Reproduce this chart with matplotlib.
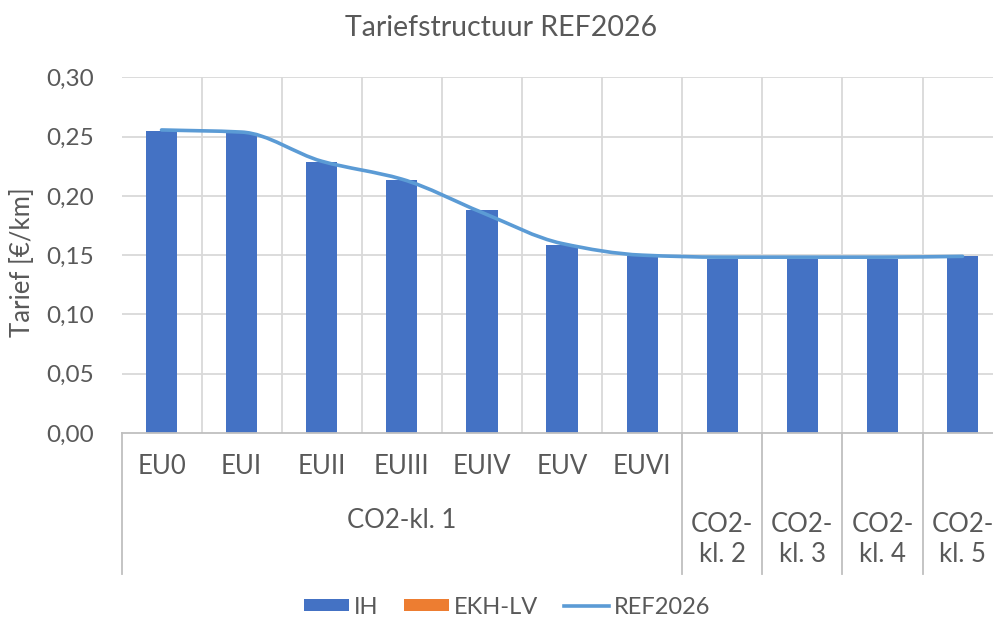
import matplotlib
matplotlib.use("Agg")
import matplotlib.pyplot as plt
import numpy as np
from matplotlib.path import Path
from matplotlib.patches import PathPatch, Patch
from matplotlib.lines import Line2D
import matplotlib.transforms as mtransforms

# ---- data ----
categories = ["EU0", "EUI", "EUII", "EUIII", "EUIV", "EUV", "EUVI",
              "CO2-\nkl. 2", "CO2-\nkl. 3", "CO2-\nkl. 4", "CO2-\nkl. 5"]
sub_labels = ["EU0", "EUI", "EUII", "EUIII", "EUIV", "EUV", "EUVI"]
group_labels = ["CO2-kl. 1", "CO2-\nkl. 2", "CO2-\nkl. 3", "CO2-\nkl. 4", "CO2-\nkl. 5"]
group_sizes = [7, 1, 1, 1, 1]
ih = [0.2550, 0.2527, 0.2285, 0.2133, 0.1877, 0.1587, 0.1494, 0.1470, 0.1468, 0.1468, 0.1494]
ekh_lv = [0, 0, 0, 0, 0, 0, 0, 0, 0, 0, 0]
ref2026 = [0.2556, 0.2538, 0.2292, 0.2141, 0.1860, 0.1598, 0.1500, 0.1483, 0.1483, 0.1483, 0.1490]
yticks = [0.00, 0.05, 0.10, 0.15, 0.20, 0.25, 0.30]
ytick_labels = ["0,00", "0,05", "0,10", "0,15", "0,20", "0,25", "0,30"]

TXT = "#595959"
FONT = "Lato"
plt.rcParams["font.family"] = [FONT, "DejaVu Sans"]

W, H = 993, 619
fig = plt.figure(figsize=(W / 100, H / 100), dpi=100)
left, right, top, bottom = 121.5, 1002.6, 77.3, 433.0
ax = fig.add_axes([left / W, 1 - bottom / H, (right - left) / W, (bottom - top) / H])

n = len(categories)
x = np.arange(n)
ax.bar(x, ih, width=0.39, color="#4472C4", zorder=2, linewidth=0)
ax.bar(x, ekh_lv, width=0.39, color="#ED7D31", zorder=2, linewidth=0)

# smooth line: monotone cubic Bezier through the data points
px = x.astype(float)
py = np.asarray(ref2026, dtype=float)
d = np.diff(py) / np.diff(px)
m = np.zeros(n)
m[0], m[-1] = d[0], d[-1]
for i in range(1, n - 1):
    if d[i - 1] * d[i] > 0:
        m[i] = 2 * d[i - 1] * d[i] / (d[i - 1] + d[i])
    else:
        m[i] = 0.0
verts = [(px[0], py[0])]
codes = [Path.MOVETO]
for i in range(n - 1):
    h = px[i + 1] - px[i]
    verts += [(px[i] + h / 3, py[i] + m[i] * h / 3),
              (px[i + 1] - h / 3, py[i + 1] - m[i + 1] * h / 3),
              (px[i + 1], py[i + 1])]
    codes += [Path.CURVE4] * 3
ax.add_patch(PathPatch(Path(verts, codes), facecolor="none", edgecolor="#5B9BD5",
                       linewidth=2.6, zorder=3, capstyle="round", joinstyle="round"))

ax.set_xlim(-0.5, n - 0.5)
ax.set_ylim(0, 0.30)
ax.set_yticks(yticks)
ax.set_yticklabels(ytick_labels, color=TXT, fontsize=17.5)
ax.tick_params(axis="y", length=0, pad=20)
ax.set_xticks([])

# gridlines
for yv in yticks[1:]:
    ax.axhline(yv, color="#D9D9D9", linewidth=1.3, zorder=1)
for b in np.arange(0.5, n - 0.5, 1.0):
    ax.axvline(b, color="#D9D9D9", linewidth=1.3, zorder=1)
for s in ["top", "right", "left"]:
    ax.spines[s].set_visible(False)
ax.spines["bottom"].set_color("#BFBFBF")
ax.spines["bottom"].set_linewidth(1.3)
ax.spines["bottom"].set_zorder(4)

# multi-level category axis
trans = mtransforms.blended_transform_factory(ax.transData, ax.transAxes)
ph = bottom - top
def ay(ypix):
    return (bottom - ypix) / ph

CAT_FS = 18.5
for i, lab in enumerate(sub_labels):
    ax.text(i, ay(467), lab, transform=trans, ha="center", va="center",
            color=TXT, fontsize=CAT_FS, clip_on=False)
start = 0
bounds = [-0.5]
for lab, sz in zip(group_labels, group_sizes):
    c = start + (sz - 1) / 2
    if sz > 1:
        ax.text(c, ay(521), lab, transform=trans, ha="center", va="center",
                color=TXT, fontsize=CAT_FS, clip_on=False)
    else:
        ax.text(c, ay(539), lab, transform=trans, ha="center", va="center",
                color=TXT, fontsize=CAT_FS, clip_on=False, linespacing=1.25)
    start += sz
    bounds.append(start - 0.5)
for b in bounds:
    ax.plot([b, b], [0, ay(574)], transform=trans, color="#BFBFBF",
            linewidth=1.3, clip_on=False, zorder=4)

fig.text(23 / W, 1 - 262 / H, "Tarief [€/km]", rotation=90, ha="center", va="center",
         color=TXT, fontsize=18.5)

fig.text(501 / W, 1 - 28 / H, "Tariefstructuur REF2026", ha="center", va="center",
         color=TXT, fontsize=20.5)

handles = [Patch(facecolor="#4472C4", edgecolor="none", label="IH"),
           Patch(facecolor="#ED7D31", edgecolor="none", label="EKH-LV"),
           Line2D([], [], color="#5B9BD5", linewidth=2.6, label="REF2026")]
leg = fig.legend(handles=handles, loc="center", bbox_to_anchor=(507 / W, 1 - 607 / H),
                 ncol=3, frameon=False, fontsize=17, handlelength=1.9,
                 handleheight=0.42, handletextpad=0.2, columnspacing=1.1)
for tx in leg.get_texts():
    tx.set_color(TXT)

fig.savefig("out.png", dpi=100)
